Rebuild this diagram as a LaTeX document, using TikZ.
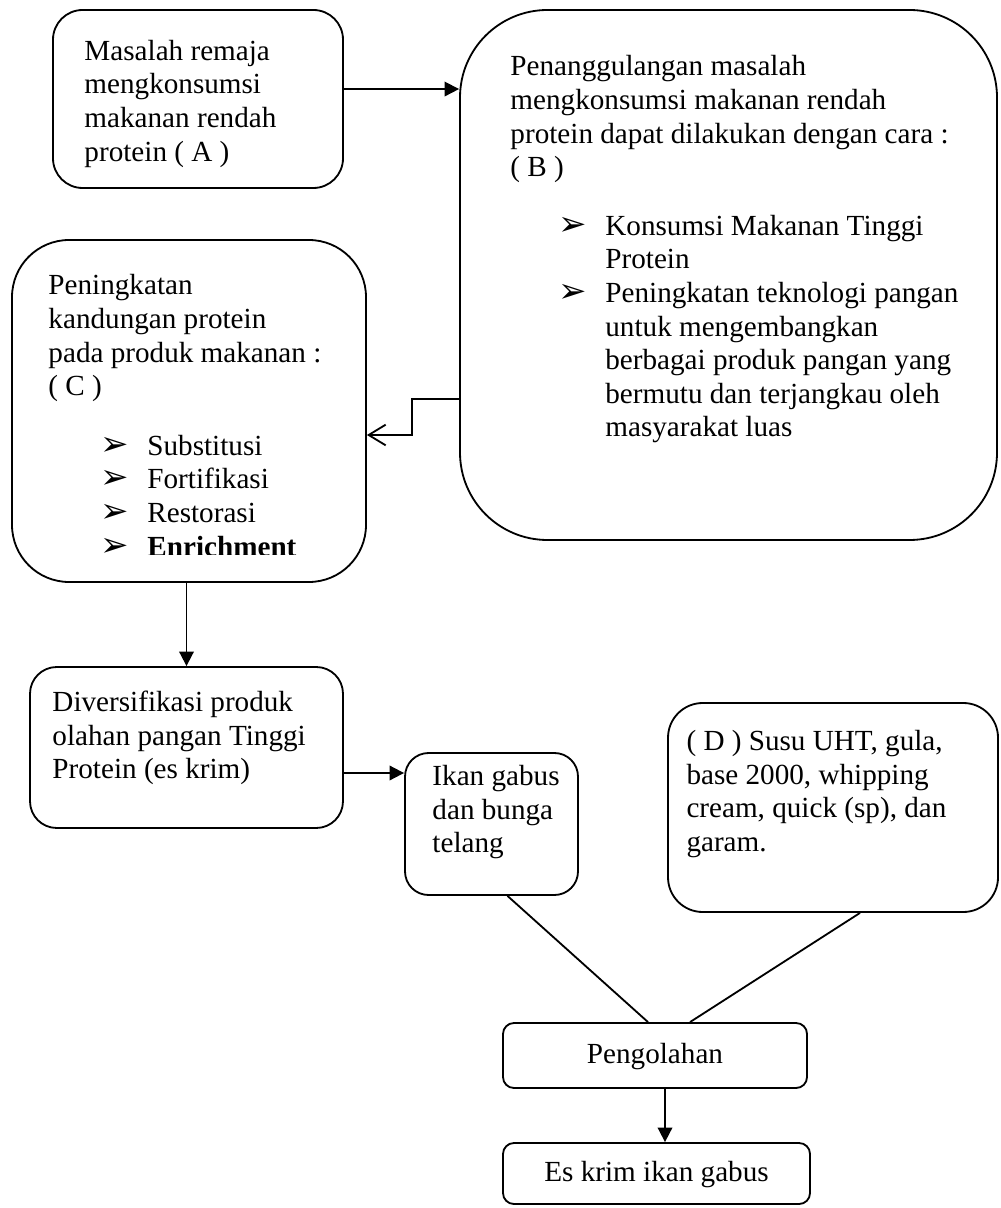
\documentclass[tikz,border=0pt]{standalone}
\usepackage{fontspec}
\setmainfont{Liberation Serif}
\newfontfamily\bltfont{DejaVu Sans}
\usetikzlibrary{arrows.meta,calc,fit}
\newcommand{\blt}{\makebox[19.3pt][l]{\bltfont\fontsize{14}{14}\selectfont ➢}}
\newcommand{\bsp}{\hspace*{19.3pt}}
\tikzset{
	box/.style={draw,line width=0.75pt,rounded corners=#1,inner sep=0pt},
	box/.default=4.5pt,
	txt/.style={anchor=north west,inner sep=0pt,align=left},
	arr/.style={line width=0.75pt,-{Triangle[length=6pt,width=6pt]}},
	openarr/.style={line width=0.75pt,-{Straight Barb[length=7pt,width=8.5pt]}},
	link/.style={line width=0.75pt}
}
\begin{document}
\begin{tikzpicture}[x=0.4115pt,y=-0.4115pt,font=\fontsize{12}{13.8}\selectfont]
	\useasboundingbox (0,0) rectangle (1000,1208);
	\node[box=12.2pt,fit={(53,10) (343,188)}] (A) {};
	\node[box=36pt,fit={(460,10) (997,540)}] (B) {};
	\node[box=23.5pt,fit={(12,240) (366,582)}] (C) {};
	\node[box=11pt,fit={(30,667) (343,828)}] (Dv) {};
	\node[box=9.7pt,fit={(405,753) (578,895)}] (Ik) {};
	\node[box=14.3pt,fit={(668,703) (998,912)}] (D) {};
	\node[box,fit={(503,1023) (807,1088)}] (Pg) {};
	\node[box,fit={(503,1143) (810,1204)}] (Es) {};
	\node[txt] (Atxt) at (84,36.5) {\strut Masalah remaja\\mengkonsumsi\\makanan rendah\\protein ( A )};
	\node[txt] (Btxt) at (510,52) {\strut Penanggulangan masalah\\mengkonsumsi makanan rendah\\protein dapat dilakukan dengan cara :\\( B )};
	\node[txt] (Blist) at (558,211.5) {\strut\blt Konsumsi Makanan Tinggi\\\bsp Protein\\\blt Peningkatan teknologi pangan\\\bsp untuk mengembangkan\\\bsp berbagai produk pangan yang\\\bsp bermutu dan terjangkau oleh\\\bsp masyarakat luas};
	\node[txt] (Ctxt) at (48,271) {\strut Peningkatan\\kandungan protein\\pada produk makanan :\\( C )};
	\begin{scope}
		\clip (0,0) rectangle (1000,554);
		\node[txt] (Clist) at (100,431.5) {\strut\blt Substitusi\\\blt Fortifikasi\\\blt Restorasi\\\blt \textbf{Enrichment}};
	\end{scope}
	\node[txt] (Dvtxt) at (52,687.5) {\strut Diversifikasi produk\\olahan pangan Tinggi\\Protein (es krim)};
	\node[txt] (Iktxt) at (432,761.5) {\strut Ikan gabus\\dan bunga\\telang};
	\node[txt] (Dtxt) at (686,726.5) {\strut ( D ) Susu UHT, gula,\\base 2000, whipping\\cream, quick (sp), dan\\garam.};
	\node[anchor=base] (Pgtxt) at (655,1063) {Pengolahan};
	\node[anchor=base] (Estxt) at (656.5,1181) {Es krim ikan gabus};
	\draw[arr] ([yshift=4.1pt]A.east) -- ([yshift=4.1pt]A.east -| B.west);
	\coordinate (bend) at (412,399);
	\draw[openarr] (B.west |- bend) -- (bend) |- (C.east |- 0,435);
	\draw[arr] (C.south -| Dv.north) -- (Dv.north);
	\draw[arr] (Dv.east |- 0,773) -- (Ik.west |- 0,773);
	\draw[link] ($(Ik.south)+(16,0)$) -- ($(Pg.north)+(-7,0)$);
	\draw[link] ($(D.south)+(27,0)$) -- ($(Pg.north)+(35,0)$);
	\coordinate (pe) at ($(Pg.south)+(10,0)$);
	\draw[arr] (pe) -- (pe |- Es.north);
\end{tikzpicture}
\end{document}
